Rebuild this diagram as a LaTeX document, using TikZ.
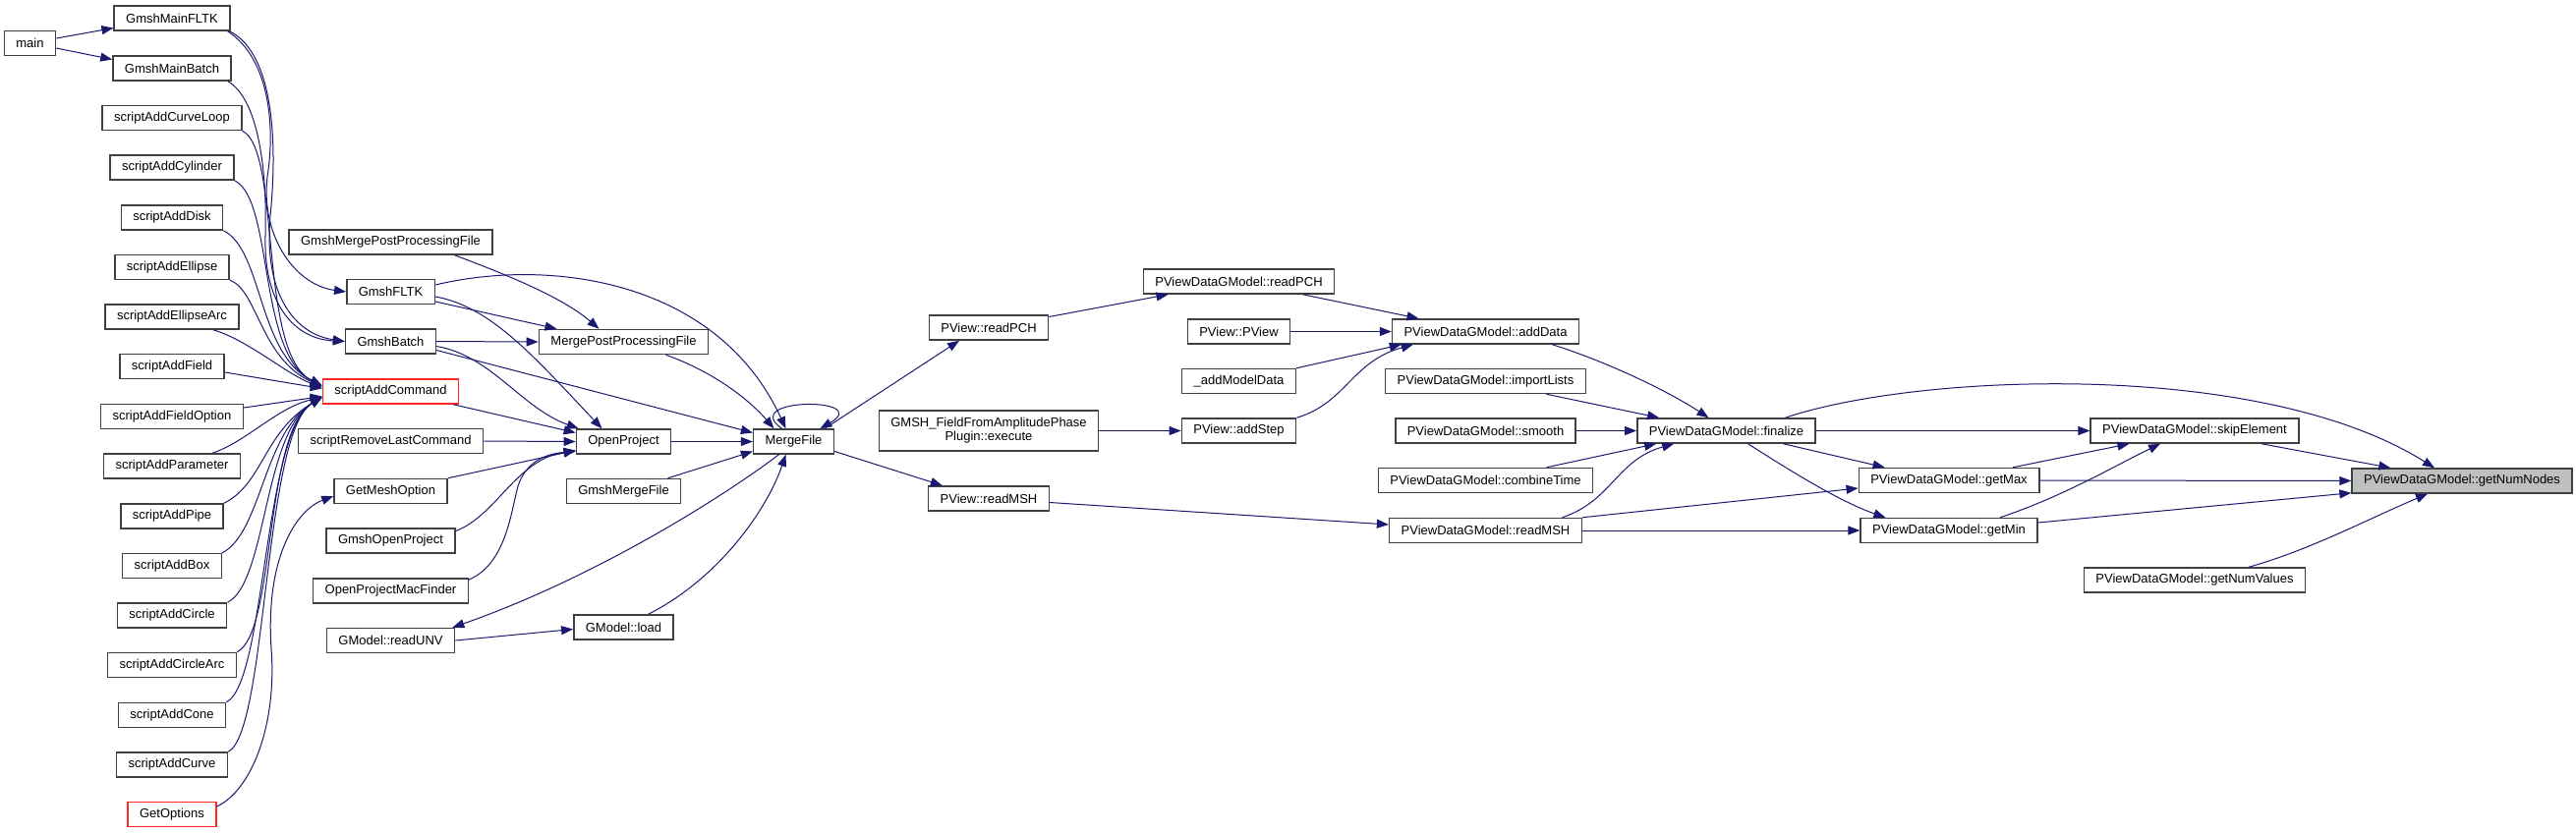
\documentclass[tikz,border=0pt]{standalone}
\usepackage{fontspec}
\setmainfont{Liberation Sans}
\usepackage{xcolor}
\usetikzlibrary{arrows.meta, calc}

\definecolor{edgeblue}{HTML}{191970}
\definecolor{rootgray}{HTML}{BFBFBF}
\newcommand{\fnfont}{\fontsize{6.5pt}{7pt}\selectfont}

\tikzset{
  fn/.style={draw=black!75, line width=0.75pt, fill=white, font=\fnfont, inner xsep=6pt, inner ysep=0pt, minimum height=12.5pt},
  fncut/.style={fn, draw=red!85},
  fnroot/.style={fn, fill=rootgray},
  call/.style={draw=edgeblue, line width=0.5pt, -{Triangle[length=6pt, width=4.5pt]}}
}

\begin{document}
\begin{tikzpicture}[x=0.5pt, y=-0.5pt]
    \path[use as bounding box, fill=white] (0,0) rectangle (2621,848);

    % Entry points and script functions
    \node[fn] (main) at (30.5,44) {main};
    \node[fn] (mainFLTK) at (175,18.5) {GmshMainFLTK};
    \node[fn] (mainBatch) at (175,69.5) {GmshMainBatch};
    \node[fn] (addCurveLoop) at (175,120) {scriptAddCurveLoop};
    \node[fn] (addCylinder) at (175,170.5) {scriptAddCylinder};
    \node[fn] (addDisk) at (175,221.5) {scriptAddDisk};
    \node[fn] (addEllipse) at (175,272) {scriptAddEllipse};
    \node[fn] (addEllipseArc) at (175,322.5) {scriptAddEllipseArc};
    \node[fn] (addField) at (175,373) {scriptAddField};
    \node[fn] (addFieldOption) at (175,424) {scriptAddFieldOption};
    \node[fn] (addParameter) at (175,474.5) {scriptAddParameter};
    \node[fn] (addPipe) at (175,525.5) {scriptAddPipe};
    \node[fn] (addBox) at (175,576) {scriptAddBox};
    \node[fn] (addCircle) at (175,626.5) {scriptAddCircle};
    \node[fn] (addCircleArc) at (175,677) {scriptAddCircleArc};
    \node[fn] (addCone) at (175,728) {scriptAddCone};
    \node[fn] (addCurve) at (175,778.5) {scriptAddCurve};
    \node[fncut] (getOptions) at (175,829) {GetOptions};

    % Second column
    \node[fn] (gmshMergePost) at (397.5,246.5) {GmshMergePostProcessingFile};
    \node[fn] (gmshFLTK) at (397.5,297) {GmshFLTK};
    \node[fn] (gmshBatch) at (397.5,347.5) {GmshBatch};
    \node[fncut] (addCommand) at (397.5,398.5) {scriptAddCommand};
    \node[fn] (removeLast) at (397.5,449) {scriptRemoveLastCommand};
    \node[fn] (getMeshOption) at (397.5,500) {GetMeshOption};
    \node[fn] (gmshOpenProject) at (397.5,550.5) {GmshOpenProject};
    \node[fn] (macFinder) at (397.5,601.5) {OpenProjectMacFinder};
    \node[fn] (readUNV) at (397.5,652) {GModel::readUNV};

    % File loading
    \node[fn] (mergePost) at (634.5,348) {MergePostProcessingFile};
    \node[fn] (openProject) at (634.5,449.5) {OpenProject};
    \node[fn] (gmshMergeFile) at (634.5,500) {GmshMergeFile};
    \node[fn] (load) at (634.5,638.5) {GModel::load};
    \node[fn] (mergeFile) at (807.5,449.5) {MergeFile};

    % PView layer
    \node[fn] (pvReadPCH) at (1006,333.5) {PView::readPCH};
    \node[fn, align=center, minimum height=20.5pt] (ampPhase) at (1006,438.5) {GMSH\_FieldFromAmplitudePhase\\Plugin::execute};
    \node[fn] (pvReadMSH) at (1006,507.5) {PView::readMSH};
    \node[fn] (gmReadPCH) at (1260.5,286.5) {PViewDataGModel::readPCH};
    \node[fn] (pvCtor) at (1260.5,337.5) {PView::PView};
    \node[fn] (addModelData) at (1260.5,388) {\_addModelData};
    \node[fn] (addStep) at (1260.5,438.5) {PView::addStep};

    % PViewDataGModel members
    \node[fn] (addData) at (1511.5,337.5) {PViewDataGModel::addData};
    \node[fn] (importLists) at (1511.5,388) {PViewDataGModel::importLists};
    \node[fn] (smooth) at (1511.5,438.5) {PViewDataGModel::smooth};
    \node[fn] (combineTime) at (1511.5,489) {PViewDataGModel::combineTime};
    \node[fn] (gmReadMSH) at (1511.5,540) {PViewDataGModel::readMSH};
    \node[fn] (finalize) at (1756.5,438.5) {PViewDataGModel::finalize};
    \node[fn] (getMax) at (1983,489) {PViewDataGModel::getMax};
    \node[fn] (getMin) at (1983,540) {PViewDataGModel::getMin};
    \node[fn] (skipElement) at (2233,438.5) {PViewDataGModel::skipElement};
    \node[fn] (getNumValues) at (2233,590.5) {PViewDataGModel::getNumValues};
    \node[fnroot] (getNumNodes) at (2505,489.5) {PViewDataGModel::getNumNodes};

    % main and the gmsh drivers
    \draw[call] ($(main.east)+(0,-5)$) -- ($(mainFLTK.west)+(0,10)$);
    \draw[call] ($(main.east)+(0,5)$) -- ($(mainBatch.west)+(0,-9)$);
    \draw[call] ($(mainFLTK.south east)+(-3,0)$) .. controls (275,60) and (280,130) .. (272,180)
        .. controls (265,240) and (300,290) .. (gmshFLTK.west);
    \draw[call] ($(mainFLTK.south east)+(-1,0)$) .. controls (280,55) and (282,150) .. (275,220)
        .. controls (268,300) and (300,340) .. (gmshBatch.west);
    \draw[call] ($(mainBatch.south east)+(-4,0)$) .. controls (262,100) and (272,170) .. (270,240)
        .. controls (268,310) and (300,345) .. (gmshBatch.west);

    % script functions into scriptAddCommand
    \foreach \n in {addCurveLoop, addCylinder, addDisk}
      \draw[call] (\n.south east) .. controls +(40,20) and (262,360) .. ($(addCommand.west)+(0,-6)$);
    \draw[call] (addEllipse.south east) .. controls +(28,10) and (265,365) .. ($(addCommand.west)+(0,-5)$);
    \draw[call] ($(addEllipseArc.south east)+(-27,0)$) .. controls +(35,10) and (290,380) .. ($(addCommand.west)+(0,-4)$);
    \draw[call] ($(addField.east)+(0,6)$) -- ($(addCommand.west)+(0,-3)$);
    \draw[call] ($(addFieldOption.east)+(0,-9)$) -- ($(addCommand.west)+(0,5)$);
    \draw[call] ($(addParameter.north east)+(-29,0)$) .. controls +(35,-12) and +(-45,10) .. ($(addCommand.west)+(0,6)$);
    \foreach \n in {addPipe, addBox, addCircle, addCircleArc, addCone, addCurve}
      \draw[call] (\n.north east) .. controls +(40,-20) and (268,440) .. ($(addCommand.west)+(0,6)$);
    \draw[call] ($(getOptions.east)+(0,-8)$) .. controls (255,805) and (282,740) .. (276,660)
        .. controls (270,570) and (300,520) .. ($(getMeshOption.west)+(0,5)$);

    % into MergePostProcessingFile, OpenProject and MergeFile
    \draw[call] ($(gmshMergePost.south)+(65,0)$) .. controls (525,283) and (575,305) .. ($(mergePost.north)+(-25,0)$);
    \draw[call] ($(gmshFLTK.east)+(0,-7)$) .. controls (560,262) and (730,285) .. ($(mergeFile.north)+(-8,0)$);
    \draw[call] ($(gmshFLTK.east)+(0,10)$) -- ($(mergePost.north)+(-68,0)$);
    \draw[call] ($(gmshFLTK.east)+(0,5)$) .. controls (500,312) and (545,365) .. ($(openProject.north)+(-22,0)$);
    \draw[call] (gmshBatch.east) -- (mergePost.west);
    \draw[call] ($(gmshBatch.east)+(0,5)$) .. controls (500,362) and (530,415) .. ($(openProject.north west)+(3,0)$);
    \draw[call] ($(gmshBatch.east)+(0,9)$) -- ($(mergeFile.west)+(0,-9)$);
    \draw[call] ($(addCommand.south east)+(-6,0)$) -- ($(openProject.west)+(0,-9)$);
    \draw[call] (removeLast.east) -- (openProject.west);
    \draw[call] (getMeshOption.north east) -- ($(openProject.west)+(0,9)$);
    \draw[call] ($(gmshOpenProject.east)+(0,-10)$) .. controls (505,525) and (525,468) .. ($(openProject.west)+(0,9)$);
    \draw[call] ($(macFinder.east)+(-1,-11)$) .. controls (515,575) and (520,520) .. (527,495)
        .. controls (535,470) and (555,462) .. ($(openProject.west)+(0,10)$);
    \draw[call] (readUNV.east) -- ($(load.west)+(0,2)$);
    \draw[call] ($(mergeFile.south)+(-15,0)$) .. controls (730,510) and (600,590) .. ($(readUNV.north east)+(-3,0)$);
    \draw[call] ($(load.north)+(25,0)$) .. controls (730,590) and (780,520) .. ($(mergeFile.south)+(-8,0)$);
    \draw[call] ($(mergePost.south)+(43,0)$) .. controls (730,380) and (765,410) .. ($(mergeFile.north)+(-20,0)$);
    \draw[call] (openProject.east) -- (mergeFile.west);
    \draw[call] ($(gmshMergeFile.north)+(45,0)$) -- ($(mergeFile.west)+(0,10)$);
    \draw[call] ($(mergeFile.north)+(-12,0)$) .. controls +(-45,-32) and +(55,-32) .. ($(mergeFile.north)+(27,0)$);

    % MergeFile to the PView readers
    \draw[call] ($(mergeFile.north east)+(-10,0)$) -- ($(pvReadPCH.south)+(-30,0)$);
    \draw[call] ($(mergeFile.east)+(0,10)$) -- ($(pvReadMSH.north west)+(15,0)$);
    \draw[call] ($(pvReadPCH.east)+(0,-11)$) -- ($(gmReadPCH.south)+(-72,0)$);
    \draw[call] (ampPhase.east) -- (addStep.west);
    \draw[call] ($(pvReadMSH.east)+(0,4)$) -- ($(gmReadMSH.west)+(0,-6)$);

    % into addData
    \draw[call] ($(gmReadPCH.south)+(65,0)$) -- ($(addData.north)+(-68,0)$);
    \draw[call] (pvCtor.east) -- (addData.west);
    \draw[call] (addModelData.north east) -- ($(addData.south west)+(10,0)$);
    \draw[call] (addStep.north east) .. controls (1370,410) and (1375,368) .. ($(addData.south west)+(22,0)$);

    % into finalize
    \draw[call] ($(addData.south)+(68,0)$) .. controls (1640,370) and (1700,400) .. ($(finalize.north)+(-18,0)$);
    \draw[call] ($(importLists.south)+(62,0)$) -- ($(finalize.north west)+(23,0)$);
    \draw[call] (smooth.east) -- (finalize.west);
    \draw[call] ($(combineTime.north)+(62,0)$) -- ($(finalize.south west)+(20,0)$);
    \draw[call] ($(gmReadMSH.north)+(78,0)$) .. controls (1640,510) and (1645,468) .. ($(finalize.south west)+(38,0)$);
    \draw[call] (gmReadMSH.north east) -- ($(getMax.west)+(0,8)$);
    \draw[call] (gmReadMSH.east) -- (getMin.west);

    % down to getNumNodes
    \draw[call] ($(finalize.north)+(60,0)$) .. controls (1950,380) and (2300,365) .. ($(getNumNodes.north)+(-28,0)$);
    \draw[call] (finalize.east) -- (skipElement.west);
    \draw[call] ($(finalize.south)+(58,0)$) -- ($(getMax.north west)+(27,0)$);
    \draw[call] ($(finalize.south)+(22,0)$) .. controls (1815,475) and (1870,510) .. ($(getMin.north west)+(26,0)$);
    \draw[call] ($(getMax.north)+(65,0)$) -- ($(skipElement.south west)+(40,0)$);
    \draw[call] ($(getMin.north)+(52,0)$) .. controls (2100,505) and (2150,475) .. ($(skipElement.south)+(-35,0)$);
    \draw[call] (getMax.east) -- (getNumNodes.west);
    \draw[call] ($(getMin.east)+(0,-8)$) -- ($(getNumNodes.south west)+(0,-1)$);
    \draw[call] ($(skipElement.south)+(68,0)$) -- ($(getNumNodes.north west)+(40,0)$);
    \draw[call] ($(getNumValues.north)+(55,0)$) .. controls (2350,560) and (2410,528) .. ($(getNumNodes.south)+(-35,0)$);
\end{tikzpicture}
\end{document}
